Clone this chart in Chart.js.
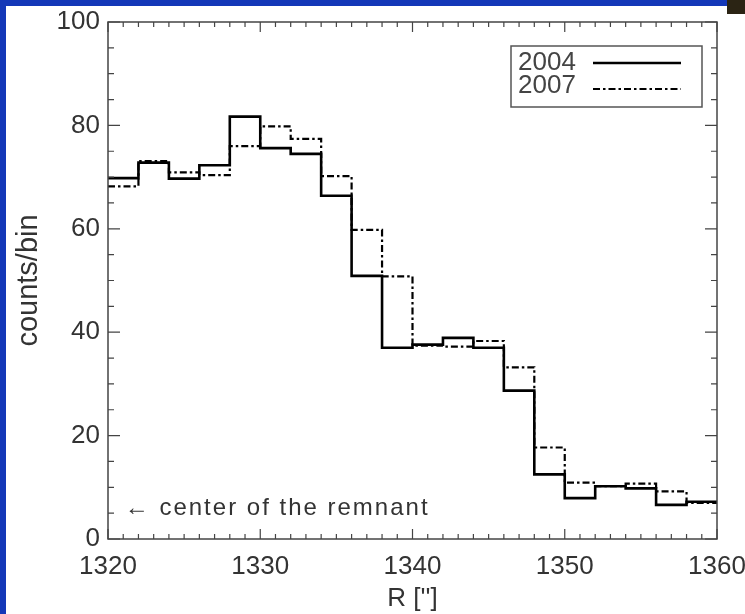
<!DOCTYPE html>
<html>
<head>
<meta charset="utf-8">
<script src="https://cdn.jsdelivr.net/npm/chart.js@4"></script>
<style>
    html, body { margin: 0; padding: 0; width: 745px; height: 614px; overflow: hidden; background: #1438b8; }
    #painel { position: absolute; left: 6px; top: 6px; width: 739px; height: 608px; background: #fff; }
    #canto { position: absolute; left: 727px; top: 0; width: 18px; height: 14px; background: #2b2414; }
</style>
</head>
<body>
<div id="painel"><canvas id="grafico" width="739" height="608"></canvas></div>
<div id="canto"></div>
<script>
// bin edges (arcsec) and counts per bin
const binEdges = [1320, 1322, 1324, 1326, 1328, 1330, 1332, 1334, 1336, 1338, 1340,
                  1342, 1344, 1346, 1348, 1350, 1352, 1354, 1356, 1358, 1360];
const counts2004 = [69.8, 72.8, 69.7, 72.3, 81.7, 75.6, 74.5, 66.4, 50.9, 37.0,
                    37.6, 38.9, 37.0, 28.7, 12.5, 7.9, 10.2, 9.8, 6.6, 7.2];
const counts2007 = [68.2, 73.1, 70.9, 70.4, 76.0, 79.8, 77.4, 70.2, 59.8, 50.8,
                    37.4, 37.2, 38.3, 33.2, 17.7, 10.9, 10.2, 10.7, 9.2, 7.0];
const seriesLabels = ['2004', '2007'];
const xTicks = [1320, 1330, 1340, 1350, 1360];
const yTicks = [0, 20, 40, 60, 80, 100];
const nota = '\u2190 center of the remnant';

const fonte = 'Liberation Sans, Arial, sans-serif';
const corTexto = '#333';

// step points: one per bin edge, the last edge repeats the last bin
const degraus = (valores) => binEdges.map((x, i) => ({ x: x, y: valores[Math.min(i, valores.length - 1)] }));

const molduraPlugin = {
    id: 'moldura',
    afterDatasetsDraw(chart) {
        const { ctx, chartArea: a, scales: { x, y } } = chart;
        ctx.save();
        ctx.strokeStyle = '#444';
        ctx.lineWidth = 1.5;
        ctx.strokeRect(a.left, a.top, a.right - a.left, a.bottom - a.top);

        // inward ticks on all four sides
        ctx.lineWidth = 1.2;
        ctx.beginPath();
        for (let v = 1320; v <= 1360; v++) {
            const px = x.getPixelForValue(v);
            const len = v % 10 === 0 ? 10 : 5;
            ctx.moveTo(px, a.bottom); ctx.lineTo(px, a.bottom - len);
            ctx.moveTo(px, a.top); ctx.lineTo(px, a.top + len);
        }
        for (let v = 0; v <= 100; v += 5) {
            const py = y.getPixelForValue(v);
            const len = v % 20 === 0 ? 12 : 6;
            ctx.moveTo(a.left, py); ctx.lineTo(a.left + len, py);
            ctx.moveTo(a.right, py); ctx.lineTo(a.right - len, py);
        }
        ctx.stroke();

        // annotation
        ctx.fillStyle = corTexto;
        ctx.font = '24px ' + fonte;
        ctx.textAlign = 'left';
        ctx.textBaseline = 'middle';
        ctx.letterSpacing = '2px';
        ctx.fillText(nota, x.getPixelForValue(1321.1), y.getPixelForValue(6));
        ctx.letterSpacing = '0px';

        // legend box
        const bx = a.right - 206, by = a.top + 24, bw = 191, bh = 61;
        ctx.strokeStyle = '#555';
        ctx.lineWidth = 1.5;
        ctx.strokeRect(bx, by, bw, bh);
        ctx.font = '26px ' + fonte;
        chart.data.datasets.forEach((ds, i) => {
            const ly = by + 17 + i * 23;
            ctx.fillStyle = '#444';
            ctx.fillText(ds.label, bx + 7, ly);
            ctx.strokeStyle = ds.borderColor;
            ctx.lineWidth = ds.borderWidth;
            ctx.setLineDash(ds.borderDash || []);
            ctx.beginPath();
            ctx.moveTo(bx + 82, ly + i * 3);
            ctx.lineTo(bx + 170, ly + i * 3);
            ctx.stroke();
            ctx.setLineDash([]);
        });
        ctx.restore();
    }
};

const ctx = document.getElementById('grafico').getContext('2d');
const grafico = new Chart(ctx, {
    type: 'line',
    data: {
        datasets: [{
            label: seriesLabels[0],
            data: degraus(counts2004),
            borderColor: '#000',
            borderWidth: 2.6,
            stepped: true,
            pointRadius: 0,
            fill: false
        },
        {
            label: seriesLabels[1],
            data: degraus(counts2007),
            borderColor: '#000',
            borderWidth: 2.2,
            borderDash: [7, 3, 2.5, 3],
            stepped: true,
            pointRadius: 0,
            fill: false
        }]
    },
    options: {
        responsive: false,
        animation: false,
        devicePixelRatio: 1,
        layout: { padding: { left: 0, top: 16, right: 28, bottom: 0 } },
        plugins: {
            legend: { display: false },
            tooltip: { enabled: false }
        },
        scales: {
            x: {
                type: 'linear',
                min: 1320,
                max: 1360,
                grid: { display: false, drawTicks: false },
                border: { display: false },
                afterBuildTicks: (s) => { s.ticks = xTicks.map(v => ({ value: v })); },
                afterFit: (s) => { s.height = 75; s.paddingLeft = 0; s.paddingRight = 0; },
                ticks: {
                    maxRotation: 0,
                    autoSkip: false,
                    padding: 12,
                    color: corTexto,
                    font: { family: fonte, size: 26 },
                    callback: (v) => String(v)
                },
                title: {
                    display: true,
                    text: 'R [\'\']',
                    color: corTexto,
                    padding: { top: 0, bottom: 2 },
                    font: { family: fonte, size: 26, lineHeight: 1 }
                }
            },
            y: {
                min: 0,
                max: 100,
                grid: { display: false, drawTicks: false },
                border: { display: false },
                afterBuildTicks: (s) => { s.ticks = yTicks.map(v => ({ value: v })); },
                afterFit: (s) => { s.width = 102; s.paddingTop = 0; s.paddingBottom = 0; },
                ticks: {
                    padding: 8,
                    color: corTexto,
                    font: { family: fonte, size: 26 },
                    callback: (v) => String(v)
                },
                title: {
                    display: true,
                    text: 'counts/bin',
                    color: corTexto,
                    padding: { top: 8, bottom: 0 },
                    font: { family: fonte, size: 29, lineHeight: 1 }
                }
            }
        }
    },
    plugins: [molduraPlugin]
});
</script>
</body>
</html>
